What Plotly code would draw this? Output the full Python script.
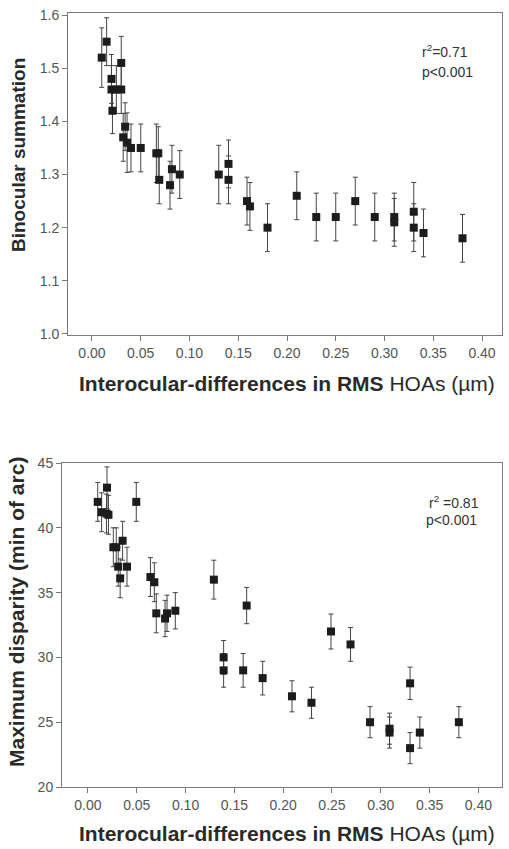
import plotly.graph_objects as go

W, H = 509, 849

# ---------------- data: top panel (binocular summation) ----------------
x_top = [0.010, 0.015, 0.020, 0.020, 0.025, 0.030, 0.021, 0.030, 0.034, 0.032,
         0.036, 0.040, 0.050, 0.066, 0.068, 0.069, 0.080, 0.082, 0.090, 0.130,
         0.140, 0.140, 0.159, 0.162, 0.180, 0.210, 0.230, 0.250, 0.270, 0.290,
         0.310, 0.310, 0.330, 0.330, 0.340, 0.380]
y_top = [1.52, 1.55, 1.48, 1.46, 1.46, 1.46, 1.42, 1.51, 1.39, 1.37,
         1.36, 1.35, 1.35, 1.34, 1.34, 1.29, 1.28, 1.31, 1.30, 1.30,
         1.32, 1.29, 1.25, 1.24, 1.20, 1.26, 1.22, 1.22, 1.25, 1.22,
         1.22, 1.21, 1.23, 1.20, 1.19, 1.18]
err_top = [0.056, 0.045, 0.046, 0.045, 0.045, 0.045, 0.043, 0.050, 0.045, 0.045,
           0.056, 0.045, 0.045, 0.055, 0.050, 0.045, 0.045, 0.045, 0.045, 0.055,
           0.045, 0.045, 0.045, 0.045, 0.045, 0.045, 0.045, 0.045, 0.045, 0.045,
           0.045, 0.045, 0.055, 0.045, 0.045, 0.045]

# ---------------- data: bottom panel (maximum disparity) ----------------
x_bot = [0.010, 0.0195, 0.014, 0.019, 0.021, 0.0495, 0.026, 0.029, 0.0355, 0.031,
         0.040, 0.033, 0.064, 0.068, 0.070, 0.079, 0.081, 0.0895, 0.129, 0.1626,
         0.139, 0.139, 0.159, 0.179, 0.209, 0.229, 0.249, 0.269, 0.289, 0.309,
         0.309, 0.330, 0.330, 0.340, 0.380]
y_bot = [42.0, 43.1, 41.2, 41.1, 41.0, 42.0, 38.5, 38.5, 39.0, 37.0,
         37.0, 36.1, 36.2, 35.8, 33.4, 33.0, 33.4, 33.6, 36.0, 34.0,
         30.0, 29.0, 29.0, 28.4, 27.0, 26.5, 32.0, 31.0, 25.0, 24.5,
         24.2, 28.0, 23.0, 24.2, 25.0]
err_bot = [1.5, 1.6, 1.5, 1.5, 1.5, 1.5, 1.5, 1.5, 1.5, 1.5,
           1.5, 1.5, 1.5, 1.5, 1.5, 1.4, 1.4, 1.4, 1.5, 1.4,
           1.3, 1.3, 1.3, 1.3, 1.2, 1.2, 1.35, 1.3, 1.2, 1.2,
           1.2, 1.25, 1.2, 1.2, 1.2]

x_ticks = [0.00, 0.05, 0.10, 0.15, 0.20, 0.25, 0.30, 0.35, 0.40]
x_ticklabels = ["0.00", "0.05", "0.10", "0.15", "0.20", "0.25", "0.30", "0.35", "0.40"]
y_ticks_top = [1.0, 1.1, 1.2, 1.3, 1.4, 1.5, 1.6]
y_ticklabels_top = ["1.0", "1.1", "1.2", "1.3", "1.4", "1.5", "1.6"]
y_ticks_bot = [20, 25, 30, 35, 40, 45]

x_title = "<b>Interocular-differences in RMS</b> HOAs (µm)"
y_title_top = "<b>Binocular summation</b>"
y_title_bot = "<b>Maximum disparity (min of arc)</b>"
stats_top = ["r<sup>2</sup>=0.71", "p<0.001"]
stats_bot = ["r<sup>2</sup> =0.81", "p<0.001"]


def px(x):
    return x / W


def py(y):
    return 1 - y / H


FONT = "Liberation Sans, Arial, sans-serif"
marker = dict(symbol="square", size=8, color="#1c1c1c", line=dict(width=0))
ebar = dict(color="#444444", thickness=1, width=2.5)

fig = go.Figure()
fig.add_trace(go.Scatter(x=x_top, y=y_top, mode="markers", marker=marker,
                         error_y=dict(type="data", array=err_top, **ebar),
                         xaxis="x", yaxis="y"))
fig.add_trace(go.Scatter(x=x_bot, y=y_bot, mode="markers", marker=marker,
                         error_y=dict(type="data", array=err_bot, **ebar),
                         xaxis="x2", yaxis="y2"))

axis_common = dict(showline=True, mirror=True, linecolor="#7a7a7a", linewidth=1,
                   ticks="outside", ticklen=5, tickcolor="#7a7a7a", tickwidth=1,
                   showgrid=False, zeroline=False, automargin=False,
                   tickfont=dict(family=FONT, size=14, color="#555555"))

fig.update_layout(
    width=W, height=H, margin=dict(l=0, r=0, t=0, b=0),
    paper_bgcolor="white", plot_bgcolor="white", showlegend=False,
    font=dict(family=FONT),
    xaxis=dict(domain=[px(68), px(502)], range=[-0.0246, 0.4205], anchor="y",
               tickvals=x_ticks, ticktext=x_ticklabels, **axis_common),
    yaxis=dict(domain=[py(335), py(13)], range=[0.998, 1.604], anchor="x",
               tickvals=y_ticks_top, ticktext=y_ticklabels_top, **axis_common),
    xaxis2=dict(domain=[px(62), px(502)], range=[-0.0266, 0.4242], anchor="y2",
                tickvals=x_ticks, ticktext=x_ticklabels, **axis_common),
    yaxis2=dict(domain=[py(787), py(463)], range=[20, 45], anchor="x2",
                tickvals=y_ticks_bot, **axis_common),
)

ann = []
title_font = dict(family=FONT, size=21, color="#2a2a2a")
ann.append(dict(text=x_title, x=px(287), y=py(383), xref="paper", yref="paper",
                showarrow=False, xanchor="center", yanchor="middle", font=title_font))
ann.append(dict(text=x_title, x=px(287), y=py(833), xref="paper", yref="paper",
                showarrow=False, xanchor="center", yanchor="middle", font=title_font))
ann.append(dict(text=y_title_top, x=px(19), y=py(155), xref="paper", yref="paper",
                showarrow=False, textangle=-90, xanchor="center", yanchor="middle",
                font=dict(family=FONT, size=19, color="#2a2a2a")))
ann.append(dict(text=y_title_bot, x=px(16), y=py(612), xref="paper", yref="paper",
                showarrow=False, textangle=-90, xanchor="center", yanchor="middle",
                font=dict(family=FONT, size=21, color="#2a2a2a")))
sfont = dict(family=FONT, size=14, color="#333333")
ann.append(dict(text=stats_top[0], x=px(420), y=py(51), xref="paper", yref="paper",
                showarrow=False, xanchor="left", yanchor="middle", font=sfont))
ann.append(dict(text=stats_top[1], x=px(420), y=py(72), xref="paper", yref="paper",
                showarrow=False, xanchor="left", yanchor="middle", font=sfont))
ann.append(dict(text=stats_bot[0], x=px(427), y=py(502), xref="paper", yref="paper",
                showarrow=False, xanchor="left", yanchor="middle", font=sfont))
ann.append(dict(text=stats_bot[1], x=px(424), y=py(520), xref="paper", yref="paper",
                showarrow=False, xanchor="left", yanchor="middle", font=sfont))
fig.update_layout(annotations=ann)

fig.write_html("out.html")
